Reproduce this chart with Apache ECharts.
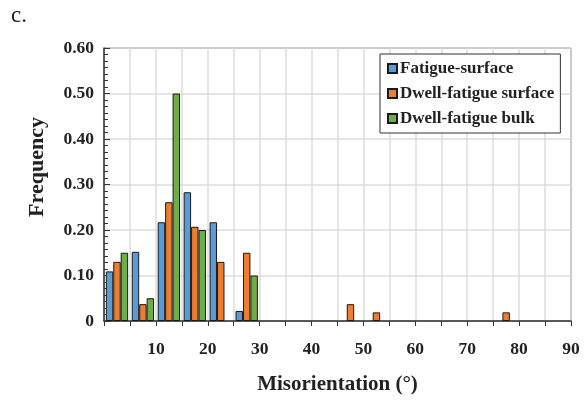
<!DOCTYPE html>
<html>
<head>
<meta charset="utf-8">
<script src="https://cdn.jsdelivr.net/npm/echarts@6/dist/echarts.min.js"></script>
<style>
  html, body { margin: 0; padding: 0; background: #fff; }
  #chart { width: 586px; height: 400px; }
</style>
</head>
<body>
<div id="chart"></div>
<script>
// bin centres (5 degree bins) and frequencies
var binCenters = [2.5, 7.5, 12.5, 17.5, 22.5, 27.5, 32.5, 37.5, 42.5, 47.5, 52.5, 57.5, 62.5, 67.5, 72.5, 77.5, 82.5, 87.5];
var fatigueSurface = [0.109, 0.152, 0.217, 0.283, 0.217, 0.022, 0, 0, 0, 0, 0, 0, 0, 0, 0, 0, 0, 0];
var dwellSurface = [0.130, 0.037, 0.261, 0.207, 0.130, 0.150, 0, 0, 0, 0.037, 0.019, 0, 0, 0, 0, 0.019, 0, 0];
var dwellBulk = [0.150, 0.050, 0.500, 0.200, 0, 0.100, 0, 0, 0, 0, 0, 0, 0, 0, 0, 0, 0, 0];
var seriesNames = ["Fatigue-surface", "Dwell-fatigue surface", "Dwell-fatigue bulk"];
var colors = ["#5b9bd5", "#ed7d31", "#70ad47"];

var serif = "Liberation Serif";

function pairs(vals) {
  var out = [];
  for (var i = 0; i < binCenters.length; i++) {
    if (vals[i] > 0) out.push([binCenters[i], vals[i]]);
  }
  return out;
}

var chart = echarts.init(document.getElementById("chart"));
var allData = [fatigueSurface, dwellSurface, dwellBulk];

chart.setOption({
  animation: false,
  grid: {
    left: 104,
    right: 15,
    top: 48,
    bottom: 76,
    show: true,
    borderColor: "#333",
    borderWidth: 1
  },
  graphic: [
    {
      type: "text",
      left: 11,
      top: 4,
      style: { text: "c.", font: "23px " + serif, fill: "#222" }
    },
    {
      type: "text",
      x: 37,
      y: 167,
      rotation: Math.PI / 2,
      style: {
        text: "Frequency",
        font: "bold 22px " + serif,
        fill: "#222",
        align: "center",
        verticalAlign: "middle"
      }
    }
  ],
  legend: {
    orient: "vertical",
    left: 380,
    top: 54,
    padding: [6, 6, 6, 7],
    itemGap: 8,
    itemWidth: 9,
    itemHeight: 9,
    icon: "rect",
    backgroundColor: "#fff",
    borderColor: "#333",
    borderWidth: 1,
    textStyle: { fontFamily: serif, fontWeight: "bold", fontSize: 17, color: "#222", padding: [0, 0, 0, -2] },
    data: seriesNames
  },
  xAxis: {
    type: "value",
    min: 0,
    max: 90,
    interval: 5,
    name: "Misorientation (°)",
    nameLocation: "middle",
    nameGap: 53,
    nameTextStyle: { fontFamily: serif, fontWeight: "bold", fontSize: 21, color: "#222" },
    axisLine: { lineStyle: { color: "#333", width: 1.5 } },
    axisTick: { show: true, length: 5, lineStyle: { color: "#333" } },
    axisLabel: {
      margin: 19,
      fontFamily: serif,
      fontWeight: "bold",
      fontSize: 17.5,
      color: "#222",
      formatter: function (v) {
        return (v % 10 === 0 && v !== 0) ? String(v) : "";
      }
    },
    splitLine: { show: true, lineStyle: { color: "#dcdcdc", width: 1.5 } }
  },
  yAxis: {
    type: "value",
    min: 0,
    max: 0.6,
    interval: 0.1,
    axisLine: { show: true, lineStyle: { color: "#333", width: 1.5 } },
    axisTick: { show: true, inside: true, length: 6, lineStyle: { color: "#333" } },
    minorTick: { show: true, splitNumber: 7, length: 4, lineStyle: { color: "#333" } },
    axisLabel: {
      margin: 10,
      fontFamily: serif,
      fontWeight: "bold",
      fontSize: 17.5,
      color: "#222",
      formatter: function (v) {
        return v === 0 ? "0" : v.toFixed(2);
      }
    },
    splitLine: { show: true, lineStyle: { color: "#dcdcdc", width: 1.5 } }
  },
  series: seriesNames.map(function (name, i) {
    return {
      name: name,
      type: "bar",
      barGap: "0%",
      barCategoryGap: "14%",
      itemStyle: { color: colors[i], borderColor: "#1a1a1a", borderWidth: 1 },
      data: pairs(allData[i])
    };
  })
});
</script>
</body>
</html>
